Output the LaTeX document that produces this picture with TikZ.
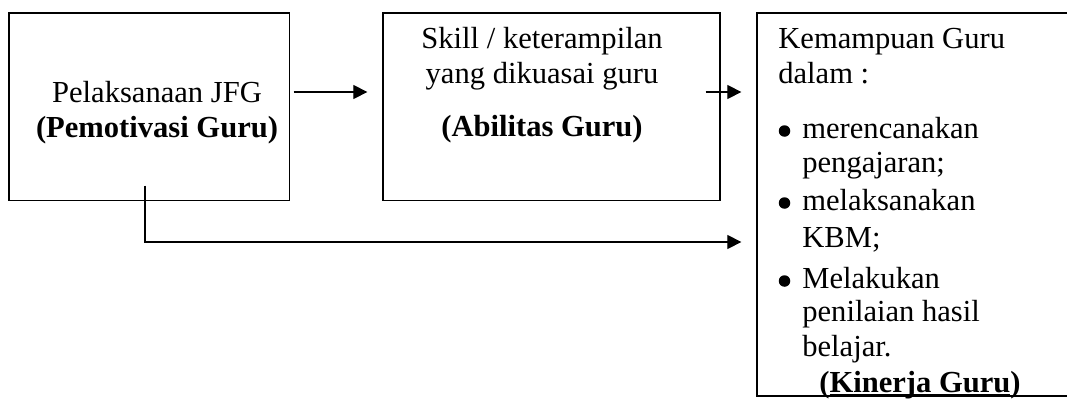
\documentclass[tikz,border=0pt]{standalone}
\usepackage{fontspec}
\setmainfont{Liberation Serif}
\usetikzlibrary{arrows.meta}
\tikzset{
	kotak/.style={draw, line width=0.8pt, inner sep=0pt},
	teks/.style={inner sep=0pt, font=\fontsize{17.4}{20}\selectfont},
	titik/.style={circle, fill, inner sep=0pt, minimum size=0.23cm},
	panah/.style={line width=0.8pt, -{Triangle[length=8pt,width=8pt]}}
}
\begin{document}
\begin{tikzpicture}[x=0.02cm, y=-0.02cm]
		\clip (0,0) rectangle (1067,399);
		%
		\node (jfg)      at (149.25,106.75) [kotak, minimum width=5.61cm, minimum height=3.75cm] {};
		\node (abilitas) at (551.5,106.75)  [kotak, minimum width=6.74cm, minimum height=3.75cm] {};
		\node (kinerja)  at (918.5,204.5)   [kotak, minimum width=6.46cm, minimum height=7.66cm] {};
		%
		\node (pelaksanaan) at (157,102) [teks, anchor=base] {Pelaksanaan JFG};
		\node (pemotivasi)  at (157,137) [teks, anchor=base] {\textbf{(Pemotivasi Guru)}};
		%
		\node (skill) at (542,48)  [teks, anchor=base] {Skill / keterampilan};
		\node (yang)  at (542,83)  [teks, anchor=base] {yang dikuasai guru};
		\node (abil)  at (542,136) [teks, anchor=base] {\textbf{(Abilitas Guru)}};
		%
		\node (kemampuan) at (778,48)  [teks, anchor=base west] {Kemampuan Guru};
		\node (dalam)     at (778,83)  [teks, anchor=base west] {dalam :};
		% butir
		\node (t1) at (784.5,131) [titik] {};
		\node (t2) at (784.5,203) [titik] {};
		\node (t3) at (784.5,281) [titik] {};
		\node (rencana)   at (802,138) [teks, anchor=base west] {merencanakan};
		\node (ajar)      at (802,172) [teks, anchor=base west] {pengajaran;};
		\node (laksana)   at (802,210) [teks, anchor=base west] {melaksanakan};
		\node (kbm)       at (802,247) [teks, anchor=base west] {KBM;};
		\node (lakukan)   at (802,288) [teks, anchor=base west] {Melakukan};
		\node (nilai)     at (802,321) [teks, anchor=base west] {penilaian hasil};
		\node (belajar)   at (802,356) [teks, anchor=base west] {belajar.};
		\node (kin)       at (819,392) [teks, anchor=base west] {\textbf{(\underline{\smash{Kinerja Guru}})}};
		%
		\draw[panah] ([shift={(3.5,-14.75)}]jfg.east) -- ([shift={(-15,-14.75)}]abilitas.west);
		\draw[panah] ([shift={(-15,-14.75)}]abilitas.east) -- ([shift={(-15,-112.5)}]kinerja.west);
		% bawah
		\draw[panah] ([shift={(-4.25,-15.5)}]jfg.south) |- ([shift={(-15,37.5)}]kinerja.west);
	\end{tikzpicture}
\end{document}
